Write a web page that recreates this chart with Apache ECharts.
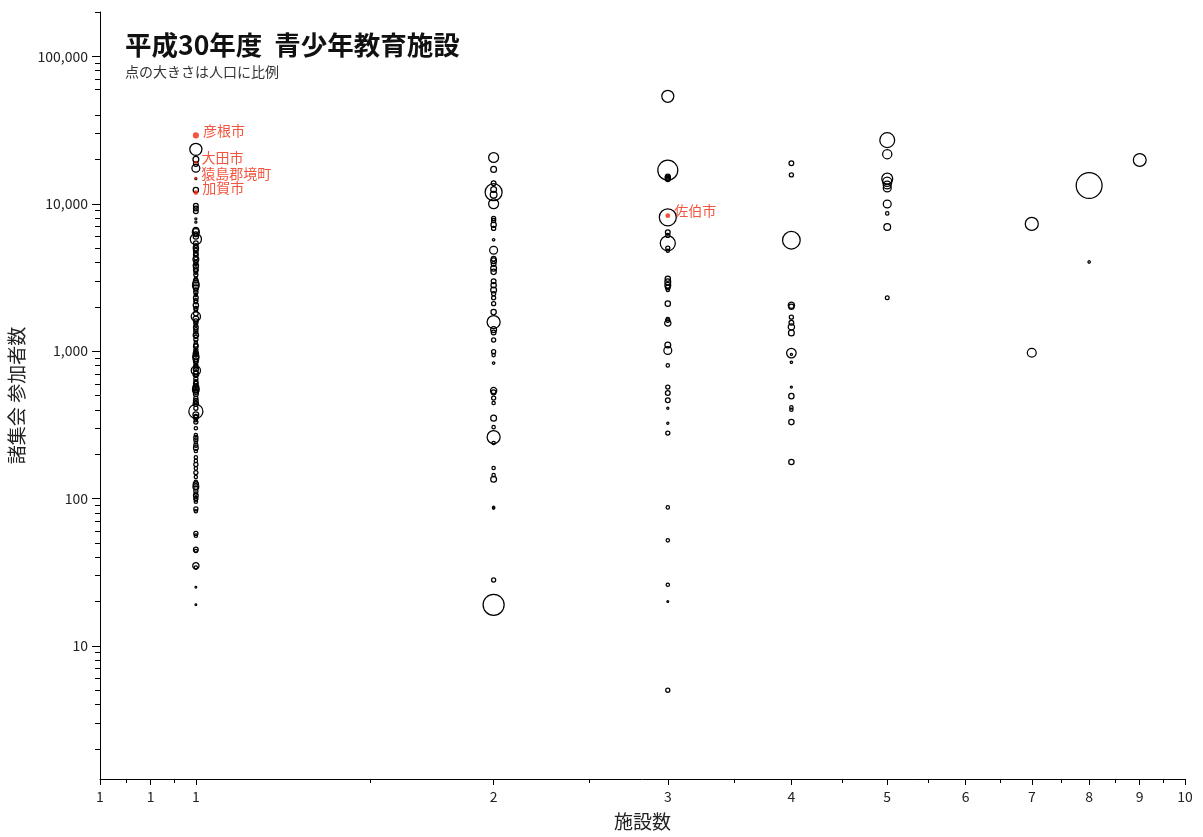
<!DOCTYPE html>
<html>
<head>
<meta charset="utf-8">
<script src="https://cdn.jsdelivr.net/npm/echarts@6/dist/echarts.min.js"></script>
<style>html,body{margin:0;padding:0;background:#fff}#c{width:1203px;height:837px}</style>
</head>
<body>
<div id="c"></div>
<script>
// ---- data (participants = 諸集会 参加者数, population = 人口) ----
const participants1 = [23400,20000,18600,17400,14800,12400,9700,9300,8900,7900,7500,6600,6400,6200,6000,5750,5400,5200,5000,4800,4600,4500,4300,4200,4000,3900,3800,3600,3500,3400,3300,3100,3000,2900,2800,2700,2600,2500,2400,2300,2200,2150,2050,1950,1900,1800,1720,1650,1600,1550,1500,1450,1400,1350,1280,1250,1200,1150,1100,1080,1020,1000,980,960,920,890,870,850,830,800,780,760,740,720,700,680,650,620,600,580,570,560,550,540,530,510,480,460,450,440,410,390,370,360,355,340,330,300,270,260,250,240,230,220,210,190,180,170,160,150,140,130,125,120,118,112,108,105,100,98,95,85,82,58,56,45,44,35,34,25,19];
const population1 = [260000,60000,40000,110000,6000,50000,40000,40000,40000,8000,8000,60000,90000,40000,50000,220000,40000,30000,50000,40000,30000,40000,30000,60000,30000,20000,50000,40000,30000,20000,30000,20000,40000,60000,80000,50000,30000,30000,20000,40000,30000,20000,50000,30000,20000,40000,150000,60000,30000,30000,20000,40000,30000,30000,50000,20000,30000,20000,30000,40000,30000,20000,30000,50000,70000,60000,30000,40000,20000,30000,30000,50000,150000,30000,60000,20000,30000,30000,40000,20000,60000,40000,80000,30000,50000,40000,30000,40000,20000,50000,30000,350000,60000,30000,40000,20000,30000,20000,20000,30000,30000,20000,30000,40000,20000,20000,20000,30000,20000,30000,20000,20000,50000,60000,30000,30000,20000,40000,30000,20000,20000,30000,20000,30000,20000,40000,20000,70000,20000,5000,5000];

const participants2 = [20600,17100,13800,12500,11970,11500,10000,7950,7700,7200,6800,5700,4840,4230,4100,3900,3650,3450,2980,2800,2600,2450,2300,2100,1840,1575,1400,1340,1190,990,940,830,540,525,480,445,351,305,261,238,161,144,135,87,86,28,19];
const population2 = [175000,60000,40000,60000,510000,80000,175000,30000,30000,50000,30000,10000,110000,40000,60000,40000,60000,50000,40000,50000,60000,30000,30000,30000,50000,300000,60000,40000,30000,30000,20000,10000,70000,40000,30000,20000,60000,20000,300000,20000,20000,20000,60000,10000,8000,30000,780000];

const participants3 = [53600,16900,15300,15000,14800,14600,8090,6400,6100,5390,5000,4800,3100,2950,2800,2700,2600,2100,1650,1620,1550,1100,1010,800,570,520,465,410,324,278,87,52,26,20,5];
const population3 = [254000,705000,40000,50000,40000,30000,510000,40000,30000,400000,30000,20000,50000,60000,60000,40000,20000,50000,20000,30000,70000,60000,110000,20000,30000,40000,40000,8000,8000,30000,20000,20000,20000,6000,30000];

const participants4 = [18800,15700,5660,2050,2000,1700,1560,1460,1330,970,950,840,570,495,415,400,330,177];
const population4 = [40000,30000,550000,70000,50000,30000,40000,70000,60000,160000,8000,10000,7000,50000,20000,20000,50000,50000];

const participants5 = [27000,21700,14800,14100,13400,12800,9960,8600,6950,2300];
const population5 = [390000,150000,210000,150000,110000,110000,110000,20000,80000,25000];

const participants7 = [7300,975];
const population7 = [300000,140000];
const participants8 = [13300,4030];
const population8 = [1180000,10000];
const participants9 = [19800];
const population9 = [290000];

// highlighted municipalities
const highlightNames = ['彦根市','大田市','猿島郡境町','加賀市','佐伯市'];
const highlightFacilities = [1,1,1,1,3];
const highlightParticipants = [29100,19100,14900,11900,8300];
const highlightPopulation = [113000,35000,24000,67000,72000];

// axis ticks
const xMajorTicks = [0.8,0.9,1,2,3,4,5,6,7,8,9,10];
const xMinorTicks = [0.85,0.95,1.5,2.5,3.5,4.5,5.5,6.5,7.5,8.5,9.5];
const yLabelTicks = [10,100,1000,10000,100000];
const yMinorTicks = [2,3,4,5,6,7,8,9,20,30,40,50,60,70,80,90,200,300,400,500,600,700,800,900,2000,3000,4000,5000,6000,7000,8000,9000,20000,30000,40000,60000,70000,80000,90000,200000];

// ---- build ----
const groups = [
  [1, participants1, population1],
  [2, participants2, population2],
  [3, participants3, population3],
  [4, participants4, population4],
  [5, participants5, population5],
  [7, participants7, population7],
  [8, participants8, population8],
  [9, participants9, population9]
];
const mainData = [];
groups.forEach(g => g[1].forEach((v, i) => mainData.push([g[0], v, g[2][i]])));
const hlData = highlightNames.map((n, i) => ({name: n, value: [highlightFacilities[i], highlightParticipants[i], highlightPopulation[i]]}));

const FONT = '"Noto Sans CJK JP","Noto Sans",sans-serif';
const AX = '#222';
const RED = '#ee2a10';

const baseX = {type: 'log', logBase: 10, min: 0.8, max: 10, splitLine: {show: false}};
const baseY = {type: 'log', logBase: 10, min: 1.25, max: 200000, splitLine: {show: false}};

const chart = echarts.init(document.getElementById('c'), null, {renderer: 'canvas'});
chart.setOption({
  animation: false,
  backgroundColor: '#fff',
  textStyle: {fontFamily: FONT},
  title: {
    text: '平成30年度  青少年教育施設',
    subtext: '点の大きさは人口に比例',
    left: 125, top: 32, itemGap: 6, padding: 0,
    textStyle: {fontSize: 26.5, fontWeight: 'bold', color: '#111', fontFamily: FONT},
    subtextStyle: {fontSize: 14, color: '#333', fontFamily: FONT}
  },
  grid: [
    {left: 100, right: 18, top: 12, bottom: 58, containLabel: false, outerBoundsMode: 'none'},
    {left: 100, right: 18, top: 12, bottom: 58, containLabel: false, outerBoundsMode: 'none'}
  ],
  xAxis: [
    Object.assign({}, baseX, {
      gridIndex: 0,
      name: '施設数', nameLocation: 'middle', nameGap: 33,
      nameTextStyle: {fontSize: 19, color: AX, fontFamily: FONT},
      axisLine: {show: true, onZero: false, lineStyle: {color: '#000', width: 1}},
      axisTick: {show: true, customValues: xMajorTicks, length: 6, lineStyle: {color: '#000', width: 1}},
      axisLabel: {show: true, customValues: xMajorTicks, formatter: v => String(Math.round(v)), fontSize: 14, color: AX, margin: 11, fontFamily: FONT}
    }),
    Object.assign({}, baseX, {
      gridIndex: 1,
      axisLine: {show: false},
      axisTick: {show: true, customValues: xMinorTicks, length: 4, lineStyle: {color: '#000', width: 1}},
      axisLabel: {show: false}
    })
  ],
  yAxis: [
    Object.assign({}, baseY, {
      gridIndex: 0,
      name: '諸集会 参加者数', nameLocation: 'middle', nameGap: 70, nameRotate: 90,
      nameTextStyle: {fontSize: 19, color: AX, fontFamily: FONT},
      axisLine: {show: true, onZero: false, lineStyle: {color: '#000', width: 1}},
      axisTick: {show: true, customValues: yLabelTicks, length: 8, lineStyle: {color: '#000', width: 1}},
      axisLabel: {show: true, customValues: yLabelTicks, formatter: v => Math.round(v).toLocaleString('en-US'), fontSize: 14, color: AX, margin: 12, fontFamily: FONT}
    }),
    Object.assign({}, baseY, {
      gridIndex: 1,
      axisLine: {show: false},
      axisTick: {show: true, customValues: yMinorTicks, length: 5, lineStyle: {color: '#000', width: 1}},
      axisLabel: {show: false}
    })
  ],
  series: [
    {
      type: 'scatter', xAxisIndex: 0, yAxisIndex: 0,
      data: mainData,
      symbol: 'circle',
      symbolSize: v => Math.sqrt(v[2]) / 42,
      itemStyle: {color: 'rgba(0,0,0,0)', borderColor: '#000', borderWidth: 1.25, opacity: 1},
      emphasis: {disabled: true},
      z: 2
    },
    {
      type: 'scatter', xAxisIndex: 0, yAxisIndex: 0,
      data: hlData,
      symbol: 'circle',
      symbolSize: v => Math.sqrt(v[2]) / 55,
      itemStyle: {color: RED, borderWidth: 0},
      label: {
        show: true, position: 'right', distance: 4,
        formatter: p => p.name, color: RED, fontSize: 14, fontFamily: FONT
      },
      labelLayout: {dy: -5, hideOverlap: false},
      emphasis: {disabled: true},
      z: 3
    }
  ]
});
</script>
</body>
</html>
